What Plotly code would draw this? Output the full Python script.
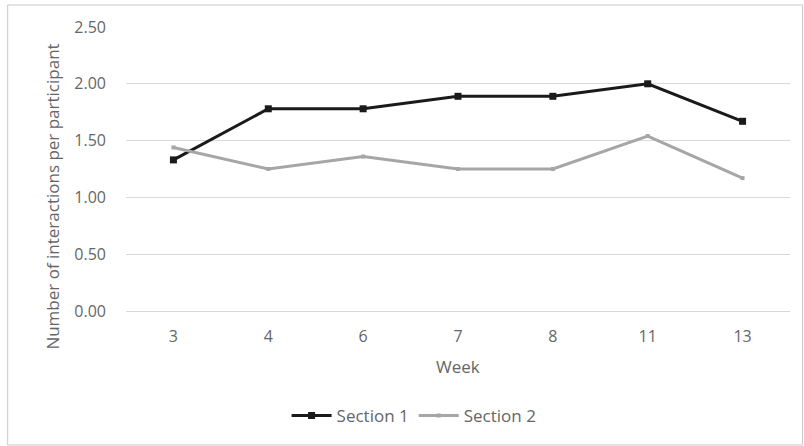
import plotly.graph_objects as go

weeks = ["3", "4", "6", "7", "8", "11", "13"]
section_1 = [1.33, 1.78, 1.78, 1.89, 1.89, 2.00, 1.67]
section_2 = [1.44, 1.25, 1.36, 1.25, 1.25, 1.54, 1.17]
y_ticks = [0.0, 0.5, 1.0, 1.5, 2.0, 2.5]

W, H = 804, 446
L, R, T, B = 125.5, 13.5, 27, 135
pw = W - L - R
ph = H - T - B
TXT = "#666666"
FONT = "Open Sans"


def px_x(px):
    return (px - L) / pw


def px_y(py):
    return (H - B - py) / ph


fig = go.Figure()
fig.add_trace(go.Scatter(
    x=weeks, y=section_1, name="Section 1", mode="lines+markers",
    line=dict(color="#1a1a1a", width=3),
    marker=dict(symbol="square", size=7, color="#1a1a1a"),
))
fig.add_trace(go.Scatter(
    x=weeks, y=section_2, name="Section 2", mode="lines+markers",
    line=dict(color="#a6a6a6", width=3),
    marker=dict(symbol="square", size=4, color="#a6a6a6"),
))

# outer chart border
fig.add_shape(
    type="rect", xref="paper", yref="paper",
    x0=px_x(7), x1=px_x(803), y0=px_y(445), y1=px_y(5),
    line=dict(color="#c8c8c8", width=1), fillcolor="rgba(0,0,0,0)", layer="below",
)

# axis titles
fig.add_annotation(
    text="Week", xref="paper", yref="paper", x=px_x(458), y=px_y(366),
    xanchor="center", yanchor="middle", showarrow=False,
    font=dict(family=FONT, size=17, color=TXT),
)
fig.add_annotation(
    text="Number of interactions per participant", xref="paper", yref="paper",
    x=px_x(51), y=px_y(197), textangle=-90,
    xanchor="center", yanchor="middle", showarrow=False,
    font=dict(family=FONT, size=17, color=TXT),
)

fig.update_layout(
    width=W, height=H,
    margin=dict(l=L, r=R, t=T, b=B, pad=0),
    paper_bgcolor="white", plot_bgcolor="white",
    font=dict(family=FONT, size=16, color=TXT),
    showlegend=True,
    legend=dict(
        orientation="h", x=px_x(414), xanchor="center",
        y=px_y(416), yanchor="middle",
        font=dict(family=FONT, size=17, color=TXT),
        itemwidth=40, tracegroupgap=0,
    ),
    xaxis=dict(
        type="category", range=[-0.5, 6.5],
        showgrid=False, zeroline=False, showline=False,
        ticks="", ticklabelstandoff=14,
        tickfont=dict(family=FONT, size=16, color=TXT),
    ),
    yaxis=dict(
        range=[0, 2.5], tickvals=y_ticks, tickformat=".2f",
        showgrid=True, gridcolor="#d9d9d9", gridwidth=1,
        zeroline=True, zerolinecolor="#d9d9d9", zerolinewidth=1,
        showline=False, ticks="", ticklabelstandoff=19,
        tickfont=dict(family=FONT, size=16, color=TXT),
    ),
)

fig.write_html("out.html")
